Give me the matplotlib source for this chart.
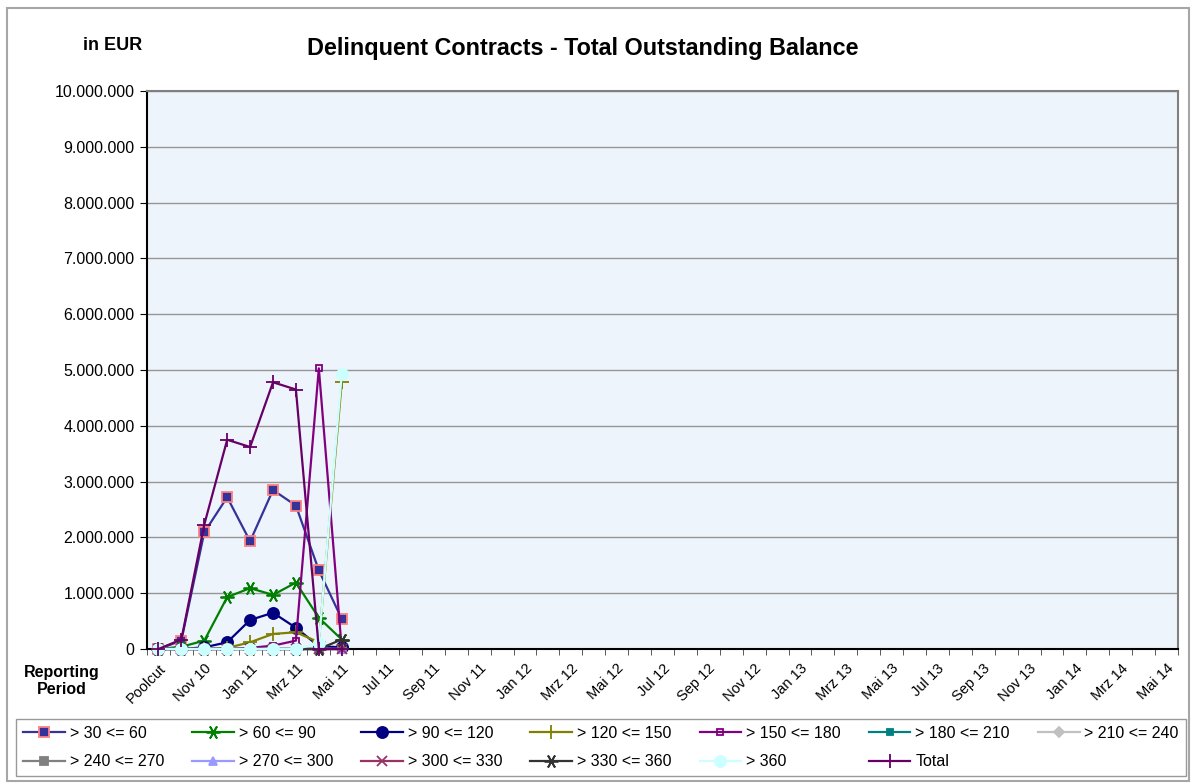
import numpy as np
import matplotlib.pyplot as plt
from matplotlib.patches import Rectangle
from matplotlib.ticker import FuncFormatter

plt.rcParams['font.family'] = ['Liberation Sans', 'DejaVu Sans']

# reporting periods (x axis categories)
periods = [
    'Poolcut', 'Okt 10', 'Nov 10', 'Dez 10',
    'Jan 11', 'Feb 11', 'Mrz 11', 'Apr 11', 'Mai 11', 'Jun 11', 'Jul 11', 'Aug 11',
    'Sep 11', 'Okt 11', 'Nov 11', 'Dez 11',
    'Jan 12', 'Feb 12', 'Mrz 12', 'Apr 12', 'Mai 12', 'Jun 12', 'Jul 12', 'Aug 12',
    'Sep 12', 'Okt 12', 'Nov 12', 'Dez 12',
    'Jan 13', 'Feb 13', 'Mrz 13', 'Apr 13', 'Mai 13', 'Jun 13', 'Jul 13', 'Aug 13',
    'Sep 13', 'Okt 13', 'Nov 13', 'Dez 13',
    'Jan 14', 'Feb 14', 'Mrz 14', 'Apr 14', 'Mai 14',
]

# outstanding balance per delinquency bucket, in EUR (Poolcut .. Mai 11)
d30_60 = [0, 150000, 2090000, 2720000, 1930000, 2850000, 2570000, 1410000, 540000]
d60_90 = [0, 40000, 150000, 930000, 1090000, 970000, 1190000, 560000, 170000]
d90_120 = [0, 0, 30000, 120000, 520000, 650000, 380000, 50000, 30000]
d120_150 = [0, 0, 0, 20000, 120000, 270000, 300000, 120000, 4780000]
d150_180 = [0, 0, 0, 0, 20000, 60000, 150000, 5030000, 0]
d180_210 = [0, 0, 0, 0, 0, 0, 0, 0, 0]
d210_240 = [0, 0, 0, 0, 0, 0, 0, 0, 0]
d240_270 = [0, 0, 0, 0, 0, 0, 0, 0, 0]
d270_300 = [0, 0, 0, 0, 0, 0, 0, 0, 0]
d300_330 = [0, 0, 0, 0, 0, 0, 0, 0, 0]
d330_360 = [0, 0, 0, 0, 0, 0, 0, 0, 170000]
d360 = [0, 0, 0, 0, 0, 0, 0, 100000, 4930000]
total = [0, 170000, 2230000, 3750000, 3620000, 4780000, 4650000, 0, 0]

series = [
    ('> 30 <= 60', d30_60, '#333399', 's', '#333399', '#FF8080', 7),
    ('> 60 <= 90', d60_90, '#008000', (6, 2, 90), '#008000', '#008000', 10),
    ('> 90 <= 120', d90_120, '#000080', 'o', '#000080', '#000080', 8),
    ('> 120 <= 150', d120_150, '#808000', '+', '#808000', '#808000', 10),
    ('> 150 <= 180', d150_180, '#800080', 's', 'none', '#800080', 4),
    ('> 180 <= 210', d180_210, '#008080', 's', '#008080', '#008080', 4),
    ('> 210 <= 240', d210_240, '#C0C0C0', 'D', '#C0C0C0', '#C0C0C0', 5),
    ('> 240 <= 270', d240_270, '#808080', 's', '#808080', '#808080', 6),
    ('> 270 <= 300', d270_300, '#9999FF', '^', '#9999FF', '#9999FF', 6),
    ('> 300 <= 330', d300_330, '#993366', 'x', '#993366', '#993366', 7),
    ('> 330 <= 360', d330_360, '#333333', (6, 2, 90), '#333333', '#333333', 10),
    ('> 360', d360, '#CCFFFF', 'o', '#CCFFFF', '#CCFFFF', 8),
    ('Total', total, '#660066', '+', '#660066', '#660066', 10),
]

W, H = 1192, 783
fig = plt.figure(figsize=(W / 100, H / 100), dpi=100)
ax = fig.add_axes([147 / W, 1 - 649 / H, (1178 - 147) / W, (649 - 91) / H])
ax.set_facecolor('#EEF4FB')

handles = []
for name, vals, col, mk, mfc, mec, ms in series:
    x = np.arange(len(vals))
    h, = ax.plot(x, vals, color=col, lw=1.6, marker=mk, markersize=ms,
                 markerfacecolor=mfc, markeredgecolor=mec, markeredgewidth=1.3,
                 label=name, clip_on=False, zorder=3)
    handles.append(h)

ax.set_xlim(-0.5, len(periods) - 0.5)
ax.set_ylim(0, 10000000)
ax.set_yticks(np.arange(0, 10000001, 1000000))
ax.yaxis.set_major_formatter(FuncFormatter(lambda v, p: f'{int(v):,}'.replace(',', '.')))
ax.grid(axis='y', color='#969696', lw=1)
ax.set_axisbelow(True)

ax.set_xticks(np.arange(0, len(periods), 2))
ax.set_xticklabels(periods[::2], rotation=45, ha='right', rotation_mode='anchor')
ax.set_xticks(np.arange(-0.5, len(periods), 1), minor=True)
ax.tick_params(axis='x', which='major', length=0, pad=9, labelsize=10.5)
ax.tick_params(axis='x', which='minor', length=4, direction='out', color='#404040')
ax.tick_params(axis='y', length=5, direction='out', labelsize=11.5, pad=4)

for s in ['left', 'bottom']:
    ax.spines[s].set_color('black')
    ax.spines[s].set_linewidth(1.5)
for s in ['top', 'right']:
    ax.spines[s].set_color('#808080')
    ax.spines[s].set_linewidth(1.5)

fig.text(113 / W, 1 - 46 / H, 'in EUR', ha='center', va='center',
         fontsize=13, fontweight='bold')
fig.text(583 / W, 1 - 48 / H, 'Delinquent Contracts - Total Outstanding Balance',
         ha='center', va='center', fontsize=16.8, fontweight='bold')
fig.text(62 / W, 1 - 681 / H, 'Reporting\nPeriod', ha='center', va='center',
         fontsize=11.5, fontweight='bold', linespacing=1.2)

# outer chart frame
fig.patches.append(Rectangle((7 / W, 1 - 781 / H), (1189 - 7) / W, (781 - 8) / H,
                             transform=fig.transFigure, fill=False,
                             edgecolor='#A6A6A6', lw=1.5))

order = [0, 7, 1, 8, 2, 9, 3, 10, 4, 11, 5, 12, 6]
leg = fig.legend([handles[i] for i in order], [series[i][0] for i in order],
                 ncol=7, loc='center', mode='expand',
                 bbox_to_anchor=(16 / W, 1 - 777 / H, (1186 - 16) / W, (777 - 718) / H),
                 fontsize=11.5, handlelength=2.6, handletextpad=0.3,
                 frameon=True, fancybox=False, edgecolor='#808080',
                 borderpad=0.45, labelspacing=0.85, borderaxespad=0)
leg.get_frame().set_linewidth(1)

fig.savefig('out.png', dpi=100)
